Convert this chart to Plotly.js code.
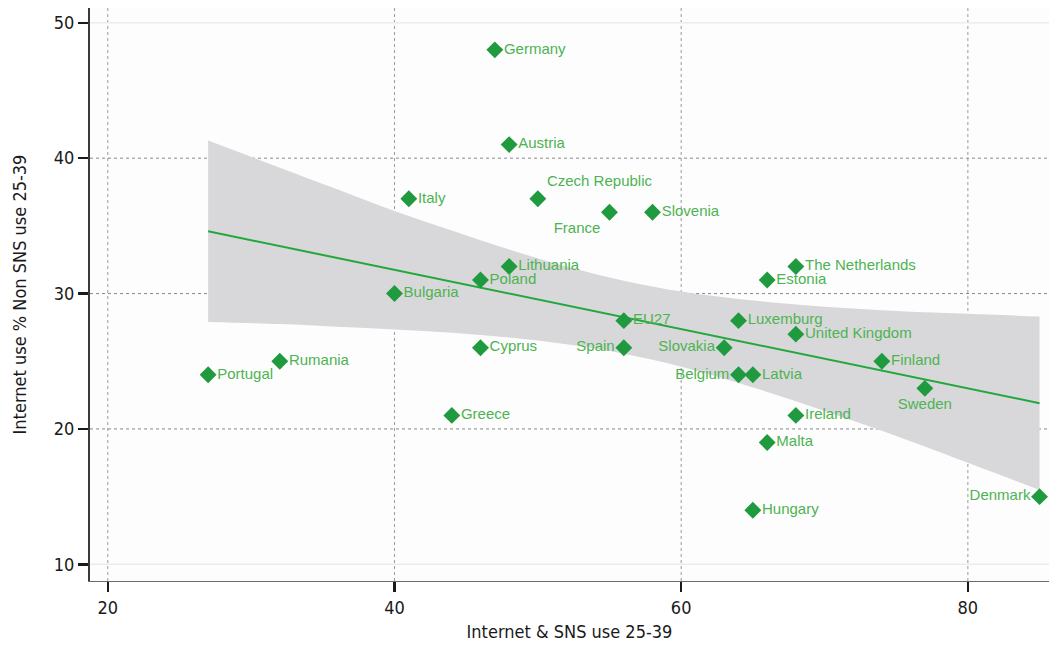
<!DOCTYPE html>
<html>
<head>
<meta charset="utf-8">
<script src="https://cdn.plot.ly/plotly-3.0.1.min.js"></script>
<style>
  html, body { margin: 0; padding: 0; background: #ffffff; }
  #chart { width: 1049px; height: 654px; }
</style>
</head>
<body>
<div id="chart"></div>
<script>
// Country values: Internet & SNS use vs. Internet use without SNS, ages 25-39
const countries = ["Germany", "Austria", "Italy", "Czech Republic", "France", "Slovenia",
  "The Netherlands", "Estonia", "Lithuania", "Poland", "Bulgaria", "EU27", "Luxemburg",
  "United Kingdom", "Slovakia", "Spain", "Cyprus", "Rumania", "Portugal", "Finland",
  "Belgium", "Latvia", "Sweden", "Ireland", "Greece", "Malta", "Hungary", "Denmark"];
const snsUse = [47, 48, 41, 50, 55, 58, 68, 66, 48, 46, 40, 56, 64,
  68, 63, 56, 46, 32, 27, 74, 64, 65, 77, 68, 44, 66, 65, 85];
const nonSnsUse = [48, 41, 37, 37, 36, 36, 32, 31, 32, 31, 30, 28, 28,
  27, 26, 26, 26, 25, 24, 25, 24, 24, 23, 21, 21, 19, 14, 15];
const labelPos = ["middle right", "middle right", "middle right", "top right", "bottom left",
  "middle right", "middle right", "middle right", "middle right", "middle right", "middle right",
  "middle right", "middle right", "middle right", "middle left", "middle left", "middle right",
  "middle right", "middle right", "middle right", "middle left", "middle right", "bottom center",
  "middle right", "middle right", "middle right", "middle right", "middle left"];

// Linear fit and its confidence band
const fitX = [27, 85];
const fitY = [34.6, 21.9];
const bandX = [27, 32, 36, 40, 44, 48, 52, 56, 60, 64, 68, 72, 76, 80, 85];
const bandUpper = [41.3, 39.3, 37.7, 36.1, 34.65, 33.25, 32.0, 30.95, 30.15, 29.6, 29.2, 28.9, 28.65, 28.5, 28.3];
const bandLower = [27.9, 27.75, 27.55, 27.35, 27.1, 26.75, 26.25, 25.55, 24.6, 23.4, 22.05, 20.6, 19.1, 17.5, 15.5];

const xTicks = [20, 40, 60, 80];
const yTicks = [10, 20, 30, 40, 50];
const yDotted = [20, 30, 40];
const yFaint = [10, 50];

const axisFont = { family: "Liberation Sans Narrow, DejaVu Sans Condensed, Arial Narrow, sans-serif", size: 18, color: "#1a1a1a" };
const green = "#1f9a3e";
const labelGreen = "#4db352";

const upperEdge = {
  x: bandX, y: bandUpper, type: "scatter", mode: "lines",
  line: { width: 0, shape: "spline", color: "#d8d8da" },
  hoverinfo: "skip", showlegend: false
};
const lowerEdge = {
  x: bandX, y: bandLower, type: "scatter", mode: "lines", fill: "tonexty",
  fillcolor: "#d8d8da", line: { width: 0, shape: "spline", color: "#d8d8da" },
  hoverinfo: "skip", showlegend: false
};

const fit = {
  x: fitX, y: fitY, type: "scatter", mode: "lines",
  line: { color: "#22a83a", width: 2 }, showlegend: false
};

const points = {
  x: snsUse, y: nonSnsUse, text: countries, textposition: labelPos,
  type: "scatter", mode: "markers+text", cliponaxis: false,
  marker: { symbol: "diamond", size: 13, color: green, line: { width: 0 } },
  textfont: { family: "Liberation Sans, Arial, sans-serif", size: 15, color: labelGreen },
  showlegend: false
};

const shapes = [];
xTicks.forEach(v => shapes.push({
  type: "line", xref: "x", yref: "paper", x0: v, x1: v, y0: 0, y1: 1, layer: "below",
  line: { color: "#9a9a9a", width: 1, dash: "dot" }
}));
yDotted.forEach(v => shapes.push({
  type: "line", xref: "paper", yref: "y", x0: 0, x1: 1, y0: v, y1: v, layer: "below",
  line: { color: "#8a8a8a", width: 1, dash: "dot" }
}));
yFaint.forEach(v => shapes.push({
  type: "line", xref: "paper", yref: "y", x0: 0, x1: 1, y0: v, y1: v, layer: "below",
  line: { color: "#ececec", width: 1.5 }
}));

const layout = {
  width: 1049, height: 654,
  margin: { l: 90, r: 0, t: 8, b: 73 },
  paper_bgcolor: "#ffffff",
  plot_bgcolor: "#fdfdfd",
  showlegend: false,
  xaxis: {
    range: [18.76, 85.66], tickvals: xTicks, showgrid: false, zeroline: false,
    showline: true, linecolor: "#6a6a6a", linewidth: 1,
    ticks: "outside", ticklen: 10, tickwidth: 2.5, tickcolor: "#1a1a1a",
    tickfont: axisFont,
    title: { text: "Internet &amp; SNS use 25-39", font: axisFont, standoff: 8 }
  },
  yaxis: {
    range: [8.77, 51.09], tickvals: yTicks, showgrid: false, zeroline: false,
    showline: true, linecolor: "#3a3a3a", linewidth: 2,
    ticks: "outside", ticklen: 10, tickwidth: 2.5, tickcolor: "#1a1a1a",
    tickfont: axisFont,
    title: { text: "Internet use % Non SNS use 25-39", font: axisFont, standoff: 22 }
  },
  shapes: shapes
};

Plotly.newPlot("chart", [upperEdge, lowerEdge, fit, points], layout, { displayModeBar: false, staticPlot: true });
</script>
</body>
</html>
